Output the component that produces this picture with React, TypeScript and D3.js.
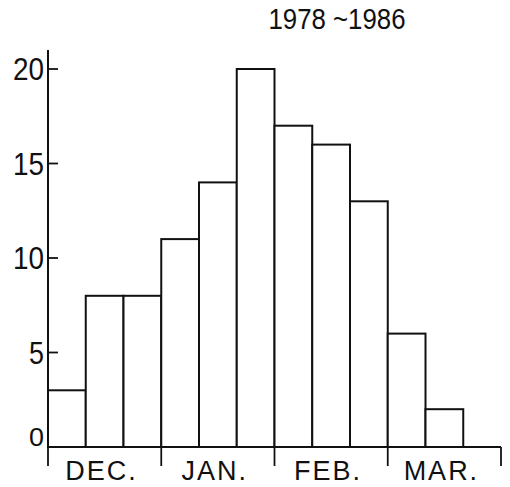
import React from "react";
import * as d3 from "d3";

// counts per third-of-month bin, Dec. to Mar.
const counts = [3, 8, 8, 11, 14, 20, 17, 16, 13, 6, 2];
const months = ["DEC.", "JAN.", "FEB.", "MAR."];
const yTicks = [0, 5, 10, 15, 20];
const title = "1978 ~1986";

export default function App() {
  const w = 510, h = 487;
  const m = { l: 48, r: 9, t: 69, b: 40 };
  const x = d3.scaleLinear().domain([0, 12]).range([m.l, w - m.r]);
  const y = d3.scaleLinear().domain([0, 20]).range([h - m.b, m.t]);
  const font = "'Liberation Sans', Arial, sans-serif";
  const ink = "#111";

  return (
    <svg width={w} height={h} style={{ position: "absolute", left: 0, top: 0 }}>
      <rect width={w} height={h} fill="#fff" />
      <text x={337} y={29} textAnchor="middle" fontFamily={font} fontSize={29} fill={ink}
        textLength={137} lengthAdjust="spacingAndGlyphs">{title}</text>

      {counts.map((c, i) => (
        <rect key={i} x={x(i)} y={y(c)} width={x(i + 1) - x(i)} height={y(0) - y(c)}
          fill="#fff" stroke={ink} strokeWidth={2} />
      ))}

      {/* y axis */}
      <line x1={x(0)} x2={x(0)} y1={y(21)} y2={y(0)} stroke={ink} strokeWidth={2} />
      {yTicks.map((t) => (
        <g key={t}>
          <line x1={x(0)} x2={x(0) + 10} y1={y(t)} y2={y(t)} stroke={ink} strokeWidth={1.8} />
          <text x={44} y={y(t) - (t === 0 ? 10 : 0)} dy="0.36em" textAnchor="end" fontFamily={font}
            fontSize={t === 0 ? 26 : 31} fill={ink}
            textLength={t >= 10 ? 31 : 15} lengthAdjust="spacingAndGlyphs">{t}</text>
        </g>
      ))}

      {/* x axis */}
      <line x1={x(0)} x2={x(12)} y1={y(0)} y2={y(0)} stroke={ink} strokeWidth={2} />
      {d3.range(0, 13, 3).map((v) => (
        <line key={v} x1={x(v)} x2={x(v)} y1={y(0)} y2={y(0) + 19} stroke={ink} strokeWidth={1.8} />
      ))}
      {months.map((mo, i) => (
        <text key={mo} x={x(i * 3 + 1.5) - 3} y={480} textAnchor="middle" fontFamily={font}
          fontSize={27} fill={ink} letterSpacing={2}>{mo}</text>
      ))}
    </svg>
  );
}
